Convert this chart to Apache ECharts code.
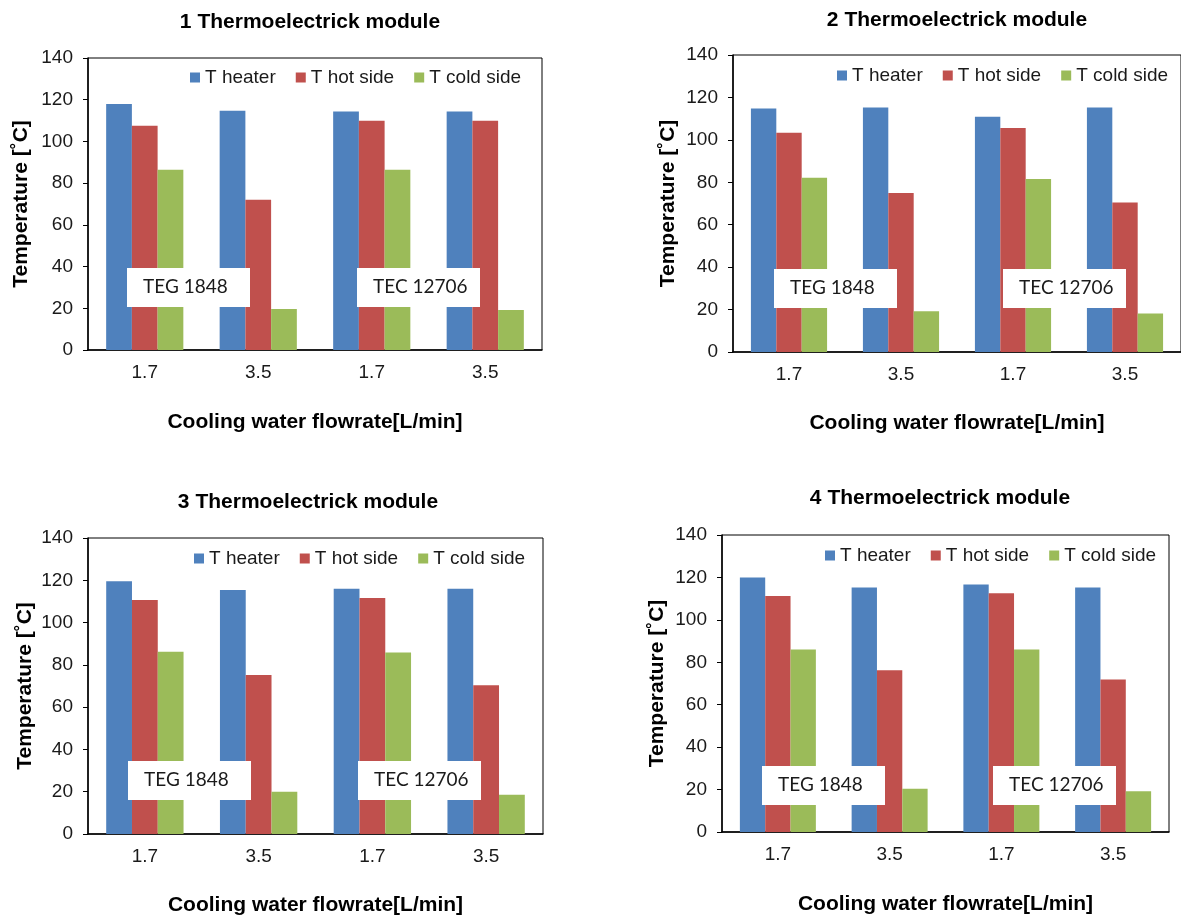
<!DOCTYPE html>
<html>
<head>
<meta charset="utf-8">
<script src="https://cdn.jsdelivr.net/npm/echarts@6/dist/echarts.min.js"></script>
<style>
  html, body { margin: 0; padding: 0; background: #fff; }
  #chart { width: 1181px; height: 918px; }
</style>
</head>
<body>
<div id="chart"></div>
<script>
// data
const categories = ['1.7', '3.5', '1.7', '3.5'];
const seriesNames = ['T heater', 'T hot side', 'T cold side'];
const seriesColors = ['#4F81BD', '#C0504D', '#9BBB59'];
const panelTitles = ['1 Thermoelectrick module', '2 Thermoelectrick module', '3 Thermoelectrick module', '4 Thermoelectrick module'];
const moduleLabels = ['TEG 1848', 'TEC 12706'];

const heater1 = [117.9, 114.7, 114.4, 114.4];
const hot1 = [107.5, 72.0, 109.9, 109.9];
const cold1 = [86.4, 19.7, 86.4, 19.2];

const heater2 = [114.8, 115.3, 110.9, 115.3];
const hot2 = [103.3, 75.0, 105.6, 70.5];
const cold2 = [82.1, 19.2, 81.6, 18.2];

const heater3 = [119.5, 115.4, 116.0, 116.0];
const hot3 = [110.7, 75.2, 111.6, 70.3];
const cold3 = [86.2, 20.0, 85.8, 18.6];

const heater4 = [120.0, 115.3, 116.7, 115.3];
const hot4 = [111.2, 76.3, 112.6, 71.9];
const cold4 = [86.0, 20.4, 86.0, 19.2];

const panelData = [
    [heater1, hot1, cold1],
    [heater2, hot2, cold2],
    [heater3, hot3, cold3],
    [heater4, hot4, cold4]
];

// layout of the four panels (pixels)
const layout = [
    { left: 88, top: 58, width: 454, height: 292, titleX: 305, titleY: 7, legendX: 185, legendY: 63, xGap: 62, yGap: 56, boxes: [[127, 268], [357, 268]] },
    { left: 733, top: 55, width: 451, height: 297, titleX: 952, titleY: 5, legendX: 832, legendY: 61, xGap: 61, yGap: 54, boxes: [[774, 269], [1003, 269]] },
    { left: 88, top: 538, width: 455, height: 296, titleX: 303, titleY: 487, legendX: 189, legendY: 544, xGap: 61, yGap: 52, boxes: [[128, 761], [358, 761]] },
    { left: 722, top: 535, width: 447, height: 297, titleX: 935, titleY: 483, legendX: 820, legendY: 541, xGap: 62, yGap: 54, boxes: [[762, 766], [993, 766]] }
];

const font = '"Liberation Sans", Arial, sans-serif';

const chart = echarts.init(document.getElementById('chart'));

const titles = [], grids = [], xAxes = [], yAxes = [], legends = [], series = [], graphics = [];

layout.forEach((p, i) => {
    titles.push({
        text: panelTitles[i],
        left: p.titleX,
        top: p.titleY,
        textAlign: 'center',
        textStyle: { fontFamily: font, fontSize: 21, fontWeight: 'bold', color: '#000' }
    });
    grids.push({
        left: p.left, top: p.top, width: p.width, height: p.height,
        show: true, borderColor: '#000', borderWidth: 1, backgroundColor: '#fff'
    });
    legends.push({
        left: p.legendX,
        top: p.legendY,
        data: seriesNames,
        icon: 'rect',
        itemWidth: 10,
        itemHeight: 10,
        itemGap: 20,
        selectedMode: false,
        textStyle: { fontFamily: font, fontSize: 19, color: '#1a1a1a' }
    });
    xAxes.push({
        type: 'category',
        gridIndex: i,
        data: categories,
        name: 'Cooling water flowrate[L/min]',
        nameLocation: 'middle',
        nameGap: p.xGap,
        nameTextStyle: { fontFamily: font, fontSize: 21, fontWeight: 'bold', color: '#000' },
        axisLine: { lineStyle: { color: '#000', width: 1.5 } },
        axisTick: { show: false },
        axisLabel: { fontFamily: font, fontSize: 19, color: '#1a1a1a', margin: 13 }
    });
    yAxes.push({
        type: 'value',
        gridIndex: i,
        min: 0,
        max: 140,
        interval: 20,
        name: 'Temperature [˚C]',
        nameLocation: 'middle',
        nameGap: p.yGap,
        nameTextStyle: { fontFamily: font, fontSize: 21, fontWeight: 'bold', color: '#000' },
        axisLine: { show: true, lineStyle: { color: '#000', width: 1.5 } },
        axisTick: { show: true, inside: false, length: 5, lineStyle: { color: '#000' } },
        axisLabel: { fontFamily: font, fontSize: 19, color: '#1a1a1a', margin: 15 },
        splitLine: { show: false }
    });
    panelData[i].forEach((values, k) => {
        series.push({
            name: seriesNames[k],
            type: 'bar',
            xAxisIndex: i,
            yAxisIndex: i,
            data: values,
            barGap: '0%',
            barCategoryGap: '32%',
            itemStyle: { color: seriesColors[k] },
            silent: true
        });
    });
    // white annotation boxes laid over the bars
    p.boxes.forEach((b, j) => {
        graphics.push({
            type: 'rect',
            left: b[0],
            top: b[1],
            z: 100,
            shape: { width: 123, height: 39 },
            style: { fill: '#fff' }
        });
        graphics.push({
            type: 'text',
            left: b[0] + 16,
            top: b[1] + 9,
            z: 101,
            style: { text: moduleLabels[j], font: '19px Lato, "Open Sans", sans-serif', fill: '#1a1a1a' }
        });
    });
});

chart.setOption({
    animation: false,
    backgroundColor: '#fff',
    title: titles,
    grid: grids,
    legend: legends,
    xAxis: xAxes,
    yAxis: yAxes,
    series: series,
    graphic: graphics
});

window.addEventListener('resize', () => chart.resize());
</script>
</body>
</html>
